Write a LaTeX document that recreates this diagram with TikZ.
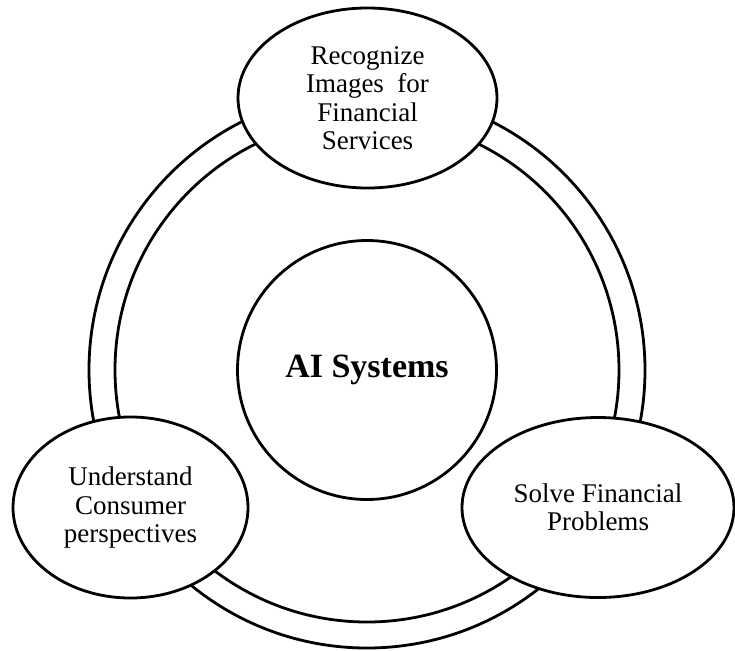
\documentclass[tikz,border=0pt]{standalone}
\usepackage{fontspec}
\setmainfont{Liberation Serif}
\usetikzlibrary{shapes.geometric}

\begin{document}
\begin{tikzpicture}[x=0.5pt, y=-0.5pt, line width=1.4pt,
		bubble/.style = {draw, ellipse, fill=white, inner sep=0pt, align=center,
			font=\fontsize{13.5}{14.25}\selectfont},
		hub/.style = {draw, circle, fill=white, inner sep=0pt, minimum size=129.5pt,
			font=\fontsize{17}{20}\selectfont\bfseries}]
		\useasboundingbox (0,0) rectangle (735,650);
		\coordinate (O) at (367,370);
		% double ring, the bubbles sit on top of it
		\draw (O) circle[radius=139pt] (O) circle[radius=126pt];
		\node[hub] (AI) at (O) {AI Systems};
		\node[bubble, minimum width=129.5pt, minimum height=90pt] (R) at (367.5,98) {Recognize\\Images\ \ for\\Financial\\Services};
		\node[bubble, minimum width=117.5pt, minimum height=90.5pt] (U) at (130.5,507.5) {Understand\\Consumer\\perspectives};
		\node[bubble, minimum width=136pt, minimum height=90pt] (S) at (598,507.5) {Solve Financial\\Problems};
	\end{tikzpicture}
\end{document}
